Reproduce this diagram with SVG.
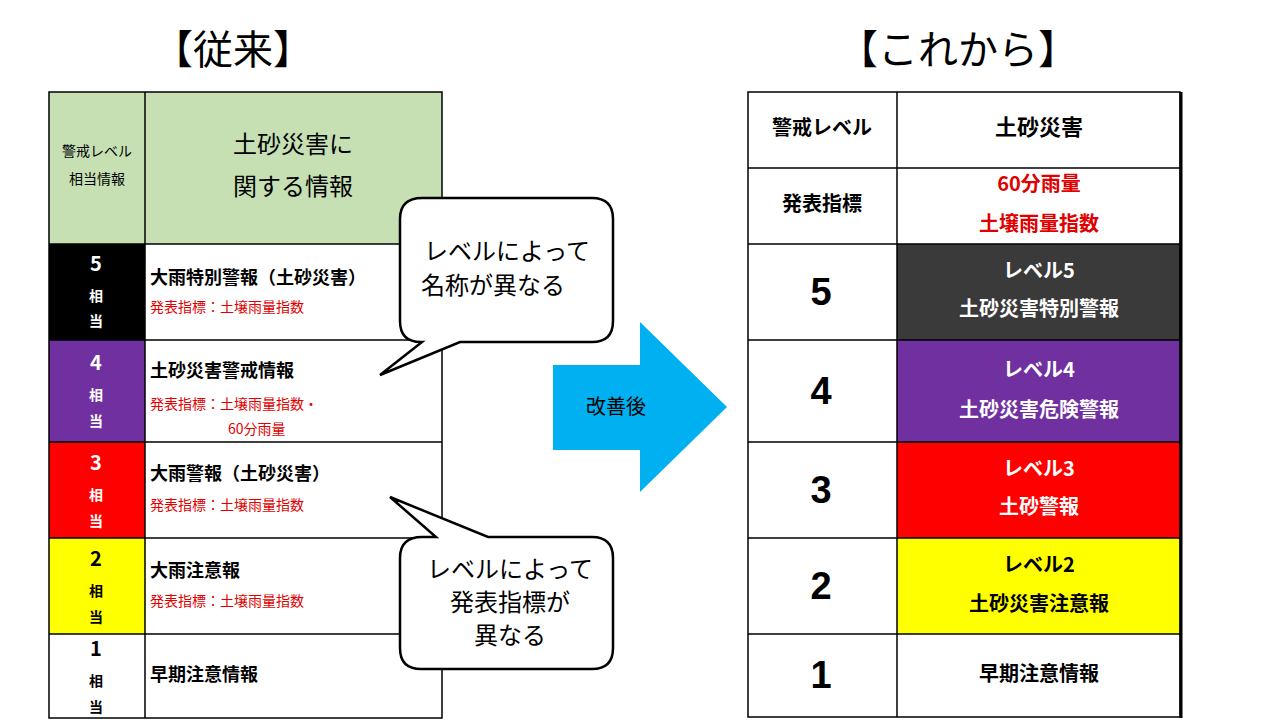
<svg xmlns="http://www.w3.org/2000/svg" width="1280" height="720" viewBox="0 0 1280 720">
<style>
text{font-family:"Noto Sans CJK JP","Liberation Sans",sans-serif;}
.b{font-weight:bold}
.ln{stroke:#000;stroke-width:1.5;fill:none}
.red{fill:#e00000;font-size:14px}
.lv{font-size:20px;font-weight:bold;text-anchor:middle}
.sm{font-size:14px;font-weight:bold;text-anchor:middle}
.nm{font-size:18px;font-weight:bold}
.rt{font-size:20px;font-weight:bold;text-anchor:middle}
.big{font-size:38px;font-weight:bold;text-anchor:middle;font-family:"Liberation Sans",sans-serif}
</style>
<rect width="1280" height="720" fill="#fff"/>
<text x="233" y="64" font-size="40" text-anchor="middle">【従来】</text>
<text x="958" y="64" font-size="40" text-anchor="middle">【これから】</text>

<g id="old-table">
<rect x="49" y="92" width="393" height="152" fill="#c6e0b4"/>
<rect x="49" y="244" width="96" height="96" fill="#000"/>
<rect x="49" y="340" width="96" height="102" fill="#7030a0"/>
<rect x="49" y="442" width="96" height="96" fill="#ff0000"/>
<rect x="49" y="538" width="96" height="96" fill="#ffff00"/>
<rect x="49" y="92" width="393" height="626" class="ln"/>
<path class="ln" d="M145 92V718M49 244H442M49 340H442M49 442H442M49 538H442M49 634H442"/>
<text x="97" y="156" font-size="14" text-anchor="middle">警戒レベル</text>
<text x="97" y="184" font-size="14" text-anchor="middle">相当情報</text>
<text x="293" y="153" font-size="24" text-anchor="middle">土砂災害に</text>
<text x="293" y="195" font-size="24" text-anchor="middle">関する情報</text>
<g fill="#fff"><text x="96" y="271" class="lv">5</text><text x="96" y="301" class="sm">相</text><text x="96" y="326" class="sm">当</text></g>
<g fill="#fff"><text x="96" y="370" class="lv">4</text><text x="96" y="400" class="sm">相</text><text x="96" y="426" class="sm">当</text></g>
<g fill="#fff"><text x="96" y="470" class="lv">3</text><text x="96" y="500" class="sm">相</text><text x="96" y="526" class="sm">当</text></g>
<g fill="#000"><text x="96" y="566" class="lv">2</text><text x="96" y="596" class="sm">相</text><text x="96" y="622" class="sm">当</text></g>
<g fill="#000"><text x="96" y="656" class="lv">1</text><text x="96" y="686" class="sm">相</text><text x="96" y="712" class="sm">当</text></g>
<text x="150" y="284" class="nm">大雨特別警報（土砂災害）</text>
<text x="150" y="312" class="red">発表指標：土壌雨量指数</text>
<text x="150" y="377" class="nm">土砂災害警戒情報</text>
<text x="150" y="409" class="red">発表指標：土壌雨量指数・</text>
<text x="228" y="434" class="red">60分雨量</text>
<text x="150" y="480" class="nm">大雨警報（土砂災害）</text>
<text x="150" y="510" class="red">発表指標：土壌雨量指数</text>
<text x="150" y="577" class="nm">大雨注意報</text>
<text x="150" y="606" class="red">発表指標：土壌雨量指数</text>
<text x="150" y="681" class="nm">早期注意情報</text>
</g>

<g id="callout1">
<path d="M422 198H592Q613 198 613 219V321Q613 342 592 342H460L380 375L422 342H421Q400 342 400 321V219Q400 198 422 198Z" fill="#fff" stroke="#000" stroke-width="2.5"/>
<text x="507" y="260" font-size="24" text-anchor="middle">レベルによって</text>
<text x="493" y="294" font-size="24" text-anchor="middle">名称が異なる</text>
</g>
<g id="callout2">
<path d="M422 537H436L390 497L488 537H592Q613 537 613 558V648Q613 669 592 669H421Q400 669 400 648V558Q400 537 422 537Z" fill="#fff" stroke="#000" stroke-width="2.5"/>
<text x="510" y="578" font-size="24" text-anchor="middle">レベルによって</text>
<text x="510" y="611" font-size="24" text-anchor="middle">発表指標が</text>
<text x="510" y="644" font-size="24" text-anchor="middle">異なる</text>
</g>

<g id="arrow">
<path d="M553 365H640V322L727 407L640 492V450H553Z" fill="#00b0f0"/>
<text x="616" y="414" font-size="20" text-anchor="middle">改善後</text>
</g>

<g id="new-table">
<rect x="897" y="244" width="283" height="96" fill="#3a3a3a"/>
<rect x="897" y="340" width="283" height="102" fill="#7030a0"/>
<rect x="897" y="442" width="283" height="96" fill="#ff0000"/>
<rect x="897" y="538" width="283" height="96" fill="#ffff00"/>
<rect x="748" y="92" width="432" height="625" class="ln"/>
<path d="M1181 92V718" stroke="#000" stroke-width="3"/>
<path class="ln" d="M897 92V717M748 168H1180M748 244H1180M748 340H1180M748 442H1180M748 538H1180M748 634H1180" stroke-width="2"/>
<text x="822" y="135" class="rt">警戒レベル</text>
<text x="1039" y="135" font-size="22" font-weight="bold" text-anchor="middle">土砂災害</text>
<text x="822" y="211" class="rt">発表指標</text>
<text x="1039" y="191" class="rt" fill="#e00000">60分雨量</text>
<text x="1039" y="231" class="rt" fill="#e00000">土壌雨量指数</text>
<text x="821" y="305" class="big">5</text>
<text x="821" y="404" class="big">4</text>
<text x="821" y="503" class="big">3</text>
<text x="821" y="599" class="big">2</text>
<text x="821" y="688" class="big">1</text>
<g fill="#fff"><text x="1039" y="278" class="rt">レベル5</text><text x="1039" y="316" class="rt">土砂災害特別警報</text></g>
<g fill="#fff"><text x="1039" y="377" class="rt">レベル4</text><text x="1039" y="417" class="rt">土砂災害危険警報</text></g>
<g fill="#fff"><text x="1039" y="476" class="rt">レベル3</text><text x="1039" y="514" class="rt">土砂警報</text></g>
<g fill="#000"><text x="1039" y="572" class="rt">レベル2</text><text x="1039" y="611" class="rt">土砂災害注意報</text></g>
<text x="1039" y="681" class="rt">早期注意情報</text>
</g>
</svg>
